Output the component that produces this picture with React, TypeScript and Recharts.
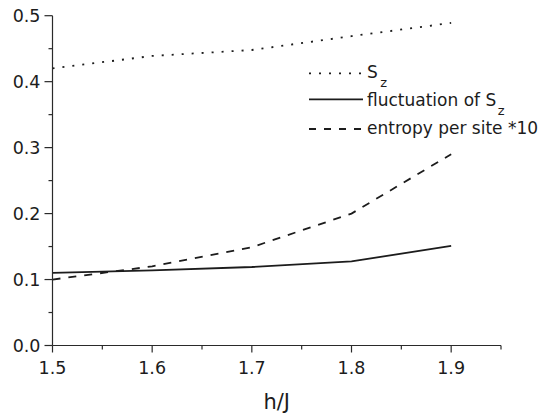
import { Legend, Line, LineChart, XAxis, YAxis } from "recharts";

// values
const hOverJ = [1.5, 1.6, 1.7, 1.8, 1.9];
const szValues = [0.42, 0.439, 0.448, 0.469, 0.489];
const fluctValues = [0.11, 0.114, 0.119, 0.1275, 0.151];
const entropyX10 = [0.1, 0.12, 0.149, 0.2, 0.29];

const xTicks = [1.5, 1.55, 1.6, 1.65, 1.7, 1.75, 1.8, 1.85, 1.9, 1.95];
const yTicks = [0, 0.05, 0.1, 0.15, 0.2, 0.25, 0.3, 0.35, 0.4, 0.45, 0.5];

const INK = "#1c1c1c";
const AXIS = "#2a2a2a";
const FONT = "'DejaVu Sans', sans-serif";
const DOTTED = "2 8";
const DASHED = "8 8";

const data = hOverJ.map((h, i) => ({
  h,
  sz: szValues[i],
  fluct: fluctValues[i],
  entropy: entropyX10[i],
}));

const isMajor = (v: number) => Math.abs(v * 10 - Math.round(v * 10)) < 1e-6;

function XTick(props: any) {
  const { x, y, payload } = props;
  const major = isMajor(payload.value);
  return (
    <g>
      <line x1={x} y1={y} x2={x} y2={y + (major ? 7 : 4)} stroke={AXIS} strokeWidth={1.2} />
      {major && (
        <text x={x} y={y + 28.5} textAnchor="middle" fontSize={17.5} fontFamily={FONT} fill={INK}>
          {payload.value.toFixed(1)}
        </text>
      )}
    </g>
  );
}

function YTick(props: any) {
  const { x, y, payload } = props;
  const major = isMajor(payload.value);
  return (
    <g>
      <line x1={x} y1={y} x2={x - (major ? 8 : 4)} y2={y} stroke={AXIS} strokeWidth={1.2} />
      {major && (
        <text x={x - 12} y={y + 6.3} textAnchor="end" fontSize={17.5} fontFamily={FONT} fill={INK}>
          {payload.value.toFixed(1)}
        </text>
      )}
    </g>
  );
}

// legend drawn by hand so the z subscript can be kept
function LegendBox() {
  const rows = [
    { dash: DOTTED, base: 18.3, line: 13.3, label: "", zdx: 2.5 },
    { dash: undefined, base: 46, line: 39.3, label: "fluctuation of ", zdx: 1.5 },
    { dash: "7 8", base: 74, line: 69, label: "entropy per site *10", zdx: 0 },
  ];
  return (
    <svg width={243} height={90} style={{ display: "block" }}>
      {rows.map((r, i) => (
        <g key={i}>
          <line x1={9} x2={63} y1={r.line} y2={r.line} stroke={INK} strokeWidth={1.8} strokeDasharray={r.dash} />
          <text x={67} y={r.base} fontSize={17} fontFamily={FONT} fill={INK}>
            {i < 2 ? (
              <>
                {r.label}S
                <tspan dx={r.zdx} dy={9} fontSize={13}>
                  z
                </tspan>
              </>
            ) : (
              r.label
            )}
          </text>
        </g>
      ))}
    </svg>
  );
}

export default function App() {
  return (
    <div style={{ position: "absolute", left: 0, top: 0, width: 543, height: 413, background: "#fff" }}>
      <LineChart width={543} height={413} data={data} margin={{ top: 15.7, right: 42, bottom: 0, left: 0 }}>
        <XAxis
          dataKey="h"
          type="number"
          domain={[1.5, 1.95]}
          ticks={xTicks}
          interval={0}
          height={67.5}
          tickSize={0}
          tickMargin={0}
          tickLine={false}
          tick={(p: any) => <XTick {...p} />}
          axisLine={{ stroke: AXIS, strokeWidth: 1.2 }}
          label={{ value: "h/J", position: "insideBottom", offset: 3.7, fontSize: 21, fontFamily: FONT, fill: INK }}
        />
        <YAxis
          type="number"
          domain={[0, 0.5]}
          ticks={yTicks}
          interval={0}
          width={52.5}
          tickSize={0}
          tickMargin={0}
          tickLine={false}
          tick={(p: any) => <YTick {...p} />}
          axisLine={{ stroke: AXIS, strokeWidth: 1.2 }}
        />
        <Legend
          layout="vertical"
          align="center"
          verticalAlign="middle"
          content={() => <LegendBox />}
          wrapperStyle={{ position: "absolute", left: 300, top: 60, width: 243, height: 90 }}
        />
        <Line type="linear" dataKey="sz" stroke={INK} strokeWidth={1.8} strokeDasharray={DOTTED} dot={false} isAnimationActive={false} />
        <Line type="linear" dataKey="fluct" stroke={INK} strokeWidth={1.8} dot={false} isAnimationActive={false} />
        <Line type="linear" dataKey="entropy" stroke={INK} strokeWidth={1.8} strokeDasharray={DASHED} dot={false} isAnimationActive={false} />
      </LineChart>
    </div>
  );
}
